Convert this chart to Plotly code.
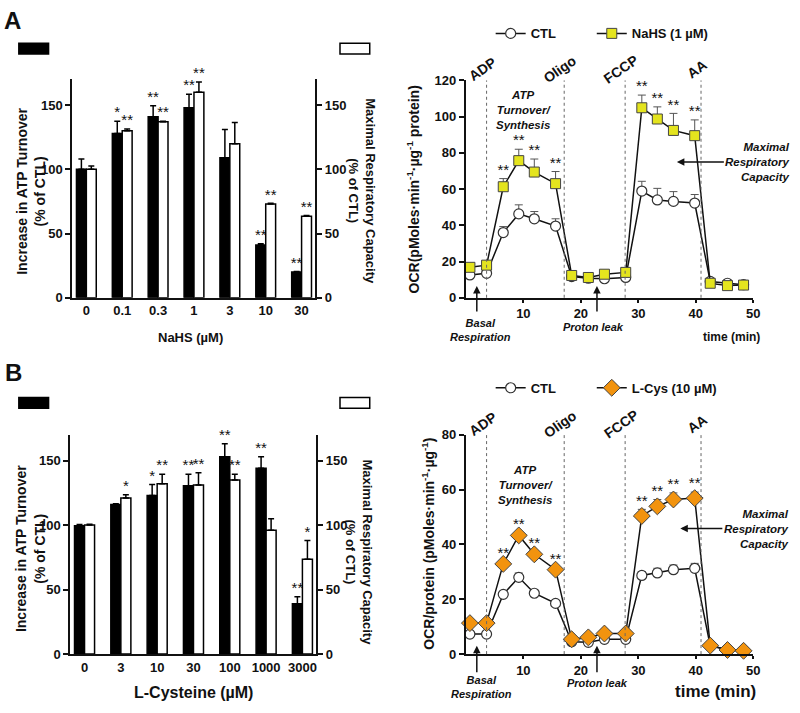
import plotly.graph_objects as go

W, H = 800, 713
FONT = "Liberation Sans, Arial, sans-serif"
INK = "#111111"

# ---- A (left): NaHS dose response, % of CTL
nahs_doses = ["0", "0.1", "0.3", "1", "3", "10", "30"]
nahs_atp = [100, 128, 141, 148, 109, 41, 20]
nahs_atp_err = [8, 9.5, 8.5, 10.5, 22, 1, 0.5]
nahs_atp_sig = ["", "*", "**", "**", "", "**", "**"]
nahs_mrc = [100, 130, 137, 160, 120, 73, 63.5]
nahs_mrc_err = [2.5, 1.5, 0.5, 8, 16.5, 0.5, 0.5]
nahs_mrc_sig = ["", "**", "**", "**", "", "**", "**"]

# ---- B (left): L-Cysteine dose response, % of CTL
lcys_doses = ["0", "3", "10", "30", "100", "1000", "3000"]
lcys_atp = [99.5, 116, 123, 130.5, 153, 144, 39]
lcys_atp_err = [1, 0.5, 8.5, 9, 10, 9, 5.5]
lcys_atp_sig = ["", "", "*", "**", "**", "**", "**"]
lcys_mrc = [100, 121, 132, 131, 135, 96, 73.5]
lcys_mrc_err = [0.7, 2.5, 7.5, 9.5, 4.5, 9, 14.5]
lcys_mrc_sig = ["", "*", "**", "**", "**", "", "*"]

# ---- OCR time courses
time_min = [0.7, 3.6, 6.5, 9.2, 11.9, 15.6, 18.4, 21.3, 24.1, 27.8,
            30.6, 33.3, 36.1, 39.8, 42.5, 45.5, 48.3]
ocr_sig = ["", "", "**", "**", "**", "**", "", "", "", "",
           "**", "**", "**", "**", "", "", ""]

ctl_a = [12.6, 13.5, 36, 46.3, 43.6, 39.6, 11.7, 10.8, 10.5, 11.2,
         58.9, 54, 53.2, 52.3, 9, 8, 7.2]
ctl_a_err = [1, 1, 3.3, 5, 4, 4, 1, 1, 1, 1, 5.4, 6.4, 5.4, 4.7, 1, 1, 0.5]
nahs_ocr = [16.8, 18, 61.3, 75.7, 69.4, 63, 12.3, 11.2, 13, 14,
            104.9, 98.7, 92.4, 89.5, 8, 6.7, 7]
nahs_ocr_err = [1, 1, 4.5, 6.3, 7.2, 6.7, 1, 1, 1, 1, 7, 6.7, 9.4, 8.7, 1, 1, 0.5]

ctl_b = [7.3, 7.3, 21.8, 28, 22.2, 18.5, 4.5, 4.3, 5.4, 5.4,
         28.7, 29.6, 30.8, 31.3, 3, 1.8, 1.2]
ctl_b_err = [0.5, 0.5, 0.8, 1.6, 0.8, 0.8, 0.3, 0.3, 0.3, 0.3,
             1.4, 1.7, 1.7, 1.8, 0.3, 0.3, 0.3]
lcys_ocr = [11.3, 11.3, 32.9, 43.3, 36.4, 30.8, 5.4, 6.1, 7.5, 7.5,
            50.4, 53.9, 56.4, 56.9, 3.1, 1.5, 1.2]
lcys_ocr_err = [0.5, 0.5, 0.8, 0.8, 0.8, 0.8, 0.3, 0.3, 0.3, 0.3,
                2.4, 2.5, 2.4, 2.2, 0.3, 0.3, 0.3]

events = ["ADP", "Oligo", "FCCP", "AA"]
event_times = [3.6, 17.1, 27.7, 40.9]

BAR_W = 0.276


def px(x):
    return x / W


def py(y):
    return 1 - y / H


def bfont(size, italic=False):
    return dict(family=FONT, size=size, color=INK, weight="bold",
                style="italic" if italic else "normal")


fig = go.Figure()


def bar_panel(xa, ya, ya2, atp, atp_err, atp_sig, mrc, mrc_err, mrc_sig):
    pos = list(range(len(atp)))
    for vals, errs, sig, yax, fill, off in [
        (atp, atp_err, atp_sig, ya, "black", -BAR_W),
        (mrc, mrc_err, mrc_sig, ya2, "white", 0),
    ]:
        fig.add_trace(go.Bar(
            x=pos, y=vals, width=BAR_W, offset=off,
            marker=dict(color=fill, line=dict(color="black", width=1.5)),
            error_y=dict(type="data", array=errs, arrayminus=[0] * len(errs),
                         symmetric=False, color="black", thickness=1.5, width=3),
            xaxis=xa, yaxis=yax, showlegend=False, hoverinfo="skip",
        ))
        fig.add_trace(go.Scatter(
            x=[p + off + BAR_W / 2 for p in pos],
            y=[v + e for v, e in zip(vals, errs)],
            text=sig, mode="text", textposition="top center",
            textfont=dict(family=FONT, size=15, color=INK),
            xaxis=xa, yaxis=yax, cliponaxis=False,
            showlegend=False, hoverinfo="skip",
        ))


def ocr_panel(xa, ya, ctl, ctl_err, trt, trt_err, name, symbol, color, size,
              leg_ctl, leg_trt):
    fig.add_trace(go.Scatter(
        x=time_min, y=ctl, name="CTL", mode="lines+markers",
        line=dict(color=INK, width=1.5),
        marker=dict(symbol="circle", size=10, color="white",
                    line=dict(color="#333", width=1.2)),
        error_y=dict(type="data", array=ctl_err, arrayminus=[0] * len(ctl_err),
                     symmetric=False, color="#555", thickness=1, width=4),
        xaxis=xa, yaxis=ya, legend=leg_ctl, cliponaxis=False,
    ))
    fig.add_trace(go.Scatter(
        x=time_min, y=trt, name=name, mode="lines+markers",
        line=dict(color=INK, width=1.5),
        marker=dict(symbol=symbol, size=size, color=color,
                    line=dict(color="#444", width=1)),
        error_y=dict(type="data", array=trt_err, arrayminus=[0] * len(trt_err),
                     symmetric=False, color="#555", thickness=1, width=4),
        xaxis=xa, yaxis=ya, legend=leg_trt, cliponaxis=False,
    ))
    fig.add_trace(go.Scatter(
        x=time_min, y=[v + e for v, e in zip(trt, trt_err)],
        text=ocr_sig, mode="text", textposition="top center",
        textfont=dict(family=FONT, size=15, color=INK),
        xaxis=xa, yaxis=ya, cliponaxis=False, showlegend=False, hoverinfo="skip",
    ))
    for t in event_times:
        fig.add_shape(type="line", xref=xa, yref=f"{ya} domain",
                      x0=t, x1=t, y0=0, y1=1,
                      line=dict(color="#666", width=1, dash="dot"))
    for ev, t in zip(events, event_times):
        fig.add_annotation(xref=xa, yref=f"{ya} domain", x=t, y=1,
                           xshift=-4, yshift=11, text=ev, textangle=-35,
                           xanchor="center", yanchor="middle",
                           showarrow=False, font=bfont(14))


bar_panel("x", "y", "y2", nahs_atp, nahs_atp_err, nahs_atp_sig,
          nahs_mrc, nahs_mrc_err, nahs_mrc_sig)
ocr_panel("x2", "y3", ctl_a, ctl_a_err, nahs_ocr, nahs_ocr_err,
          "NaHS (1 µM)", "square", "#E4E41E", 10, "legend", "legend2")
bar_panel("x3", "y4", "y5", lcys_atp, lcys_atp_err, lcys_atp_sig,
          lcys_mrc, lcys_mrc_err, lcys_mrc_sig)
ocr_panel("x4", "y6", ctl_b, ctl_b_err, lcys_ocr, lcys_ocr_err,
          "L-Cys (10 µM)", "diamond", "#F2930E", 13, "legend3", "legend4")

axis = dict(showline=True, linecolor=INK, linewidth=2, ticks="outside",
            tickcolor=INK, tickwidth=2, ticklen=5, showgrid=False,
            zeroline=False, tickfont=bfont(13))

bar_x = dict(axis, ticks="", range=[-0.39, 6.38], tickvals=list(range(7)))
bar_y = dict(axis, range=[0, 170], tickvals=[0, 50, 100, 150])
ocr_x = dict(axis, ticklen=3, range=[0, 50], tickvals=[10, 20, 30, 40, 50])


def legend_at(x, y):
    return dict(x=px(x), y=py(y), xanchor="left", yanchor="middle",
                orientation="h", font=bfont(13),
                bgcolor="rgba(0,0,0,0)", itemwidth=30)


fig.update_layout(
    width=W, height=H,
    margin=dict(l=0, r=0, t=0, b=0),
    paper_bgcolor="white", plot_bgcolor="rgba(0,0,0,0)",
    font=dict(family=FONT, color=INK),
    barmode="overlay",
    xaxis=dict(bar_x, domain=[px(73), px(318)], anchor="y", ticktext=nahs_doses),
    yaxis=dict(bar_y, domain=[py(297), py(74)], anchor="x"),
    yaxis2=dict(bar_y, overlaying="y", side="right", anchor="x"),
    xaxis2=dict(ocr_x, domain=[px(470), px(760)], anchor="y3"),
    yaxis3=dict(axis, domain=[py(297), py(75)], anchor="x2", range=[0, 120], dtick=20),
    xaxis3=dict(bar_x, domain=[px(71), px(319)], anchor="y4", ticktext=lcys_doses),
    yaxis4=dict(bar_y, domain=[py(661), py(437)], anchor="x3"),
    yaxis5=dict(bar_y, overlaying="y4", side="right", anchor="x3"),
    xaxis4=dict(ocr_x, domain=[px(470), px(760)], anchor="y6"),
    yaxis6=dict(axis, domain=[py(661), py(437)], anchor="x4", range=[0, 80], dtick=20),
    legend=legend_at(495, 27),
    legend2=legend_at(597, 27),
    legend3=legend_at(495, 389),
    legend4=legend_at(597, 389),
)

# legend keys for the bar charts
for top in (37, 399):
    fig.add_shape(type="rect", xref="paper", yref="paper",
                  x0=px(19), x1=px(49), y0=py(top + 11), y1=py(top),
                  fillcolor="black", line=dict(color="black", width=1.5))
    fig.add_shape(type="rect", xref="paper", yref="paper",
                  x0=px(343), x1=px(373), y0=py(top + 11), y1=py(top),
                  fillcolor="white", line=dict(color="black", width=1.5))


def note(x, y, text, size=13, angle=0, italic=False, align="center"):
    fig.add_annotation(xref="paper", yref="paper", x=px(x), y=py(y),
                       xanchor="center", yanchor="middle",
                       text=text, showarrow=False, textangle=angle,
                       align=align, font=bfont(size, italic))


# panel letters
note(13, 14, "A", size=24)
note(14, 373, "B", size=24)

# bar chart axis titles
note(31, 188, "Increase in ATP Turnover<br>(% of CTL)", size=14, angle=-90)
note(365, 188, "Maximal Respiratory Capacity<br>(% of CTL)", size=13, angle=90)
note(192, 338, "NaHS (µM)", size=13)
note(31, 553, "Increase in ATP Turnover<br>(% of CTL)", size=14, angle=-90)
note(362, 557, "Maximal Respiratory Capacity<br>(% of CTL)", size=13, angle=90)
note(195, 700, "L-Cysteine (µM)", size=16)

# OCR axis titles
note(417, 186, "OCR(pMoles·min<sup>-1</sup>·µg<sup>-1</sup> protein)", size=14, angle=-90)
note(432, 548, "OCR/protein (pMoles·min<sup>-1</sup>·µg<sup>-1</sup>)", size=14, angle=-90)
note(738, 337, "time (min)", size=12)
note(722, 699, "time (min)", size=17)

# phase labels
note(528, 105, "ATP<br>Turnover/<br>Synthesis", size=11.5, italic=True)
note(530, 488, "ATP<br>Turnover/<br>Synthesis", size=11.5, italic=True)
note(485, 330, "Basal<br>Respiration", size=11, italic=True)
note(599, 327, "Proton leak", size=11, italic=True)
note(486, 695, "Basal<br>Respiration", size=11, italic=True)
note(603, 691, "Proton leak", size=11, italic=True)

# arrows
for xa, ya, tip_y, tail in [("x2", "y3", 6.5, 27), ("x4", "y6", 3, 28)]:
    for t in (1.9, 22.8):
        fig.add_annotation(xref=xa, yref=ya, x=t, y=tip_y, ax=0, ay=tail,
                           text="", showarrow=True, arrowhead=2,
                           arrowsize=1, arrowwidth=1.5, arrowcolor=INK)

for xa, ya, tx, ty, shift in [("x2", "y3", 36.7, 75, 81), ("x4", "y6", 37.3, 45.8, 76)]:
    fig.add_annotation(xref=xa, yref=ya, x=tx, y=ty, ax=shift, ay=0,
                       text="Maximal<br>Respiratory<br>Capacity", align="right",
                       showarrow=True, arrowhead=2, arrowsize=1, arrowwidth=1.5,
                       arrowcolor=INK, font=bfont(11.5, True))

# page body has a default 8px margin; remove it so the figure sits at 0,0
fig.write_html("out.html", config={"displayModeBar": False},
               post_script="document.body.style.margin='0';")
